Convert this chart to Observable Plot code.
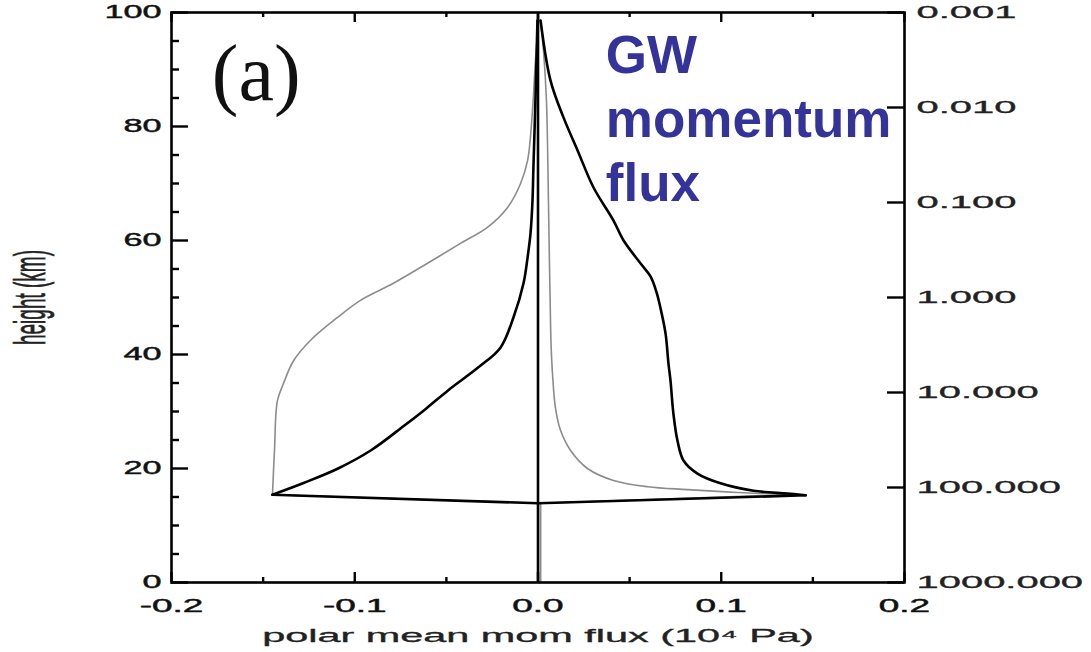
<!DOCTYPE html>
<html>
<head>
<meta charset="utf-8">
<script src="https://cdn.jsdelivr.net/npm/d3@7"></script>
<script src="https://cdn.jsdelivr.net/npm/@observablehq/plot@0.6"></script>
<style>
  html, body { margin: 0; padding: 0; background: #fff; }
  #chart svg { display: block; }
</style>
</head>
<body>
<div id="chart"></div>
<script>
// ---------- data (x = flux, h = height km) ----------
// profiles above the source level
const blackWest = [
  [-0.1449, 15.4], [-0.1276, 17.5], [-0.1091, 20.0], [-0.0911, 23.2],
  [-0.0731, 27.5], [-0.0611, 30.5], [-0.0491, 33.7], [-0.0327, 37.7], [-0.0205, 41.2],
  [-0.0134, 46.5], [-0.0079, 52.5], [-0.0057, 57.0], [-0.0041, 61.2], [-0.003, 67.0],
  [-0.0025, 72.8], [-0.0014, 84.6], [-0.0003, 98.6]
];
const blackEast = [
  [0.146, 15.3], [0.1362, 15.6], [0.1176, 16.1], [0.0996, 17.4],
  [0.087, 19.1], [0.0794, 21.4], [0.0761, 24.9], [0.0739, 29.6], [0.0723, 35.4],
  [0.0712, 38.4], [0.0696, 43.7], [0.0668, 48.2], [0.0647, 50.9], [0.0614, 53.7],
  [0.0559, 56.0], [0.0467, 60.0], [0.0412, 63.5], [0.0303, 69.3], [0.0216, 75.8],
  [0.0139, 81.6], [0.0068, 88.1], [0.0014, 98.6]
];
const grayWest = [
  [-0.1449, 15.4], [-0.1438, 23.2], [-0.1422, 31.9], [-0.1389, 34.9],
  [-0.1334, 38.9], [-0.1241, 42.5], [-0.1094, 46.5], [-0.0969, 49.5], [-0.0789, 52.5],
  [-0.0603, 56.0], [-0.0423, 59.5], [-0.0276, 62.3], [-0.0166, 65.8], [-0.0095, 70.0],
  [-0.0057, 74.0], [-0.003, 82.8], [-0.0014, 91.6], [0.0003, 98.6]
];
const grayEast = [
  [0.1378, 15.4], [0.1089, 15.8], [0.0816, 16.3],
  [0.0598, 16.8], [0.0412, 17.9], [0.027, 20.0], [0.0177, 23.2], [0.0123, 26.7],
  [0.0095, 30.7], [0.0079, 36.7], [0.0071, 42.0], [0.0066, 50.0], [0.0062, 57.0],
  [0.0057, 67.0], [0.0046, 84.6], [0.003, 93.3], [0.0014, 98.6]
];
// below / at the source level
const blackSource = [[-0.1449, 15.4], [0, 13.9], [0.146, 15.3]];
const graySource = [[-0.1449, 15.4], [0.0014, 13.9], [0.1378, 15.4]];
const grayStem = [[0.0014, 0], [0.0014, 13.9]];

// ---------- axes ----------
const xTicksMajor = [-0.2, -0.1, 0, 0.1, 0.2];
const xTicksMinor = [-0.15, -0.05, 0.05, 0.15];
const yTicksMajor = [0, 20, 40, 60, 80, 100];
const yTicksMinor = [5, 10, 15, 25, 30, 35, 45, 50, 55, 65, 70, 75, 85, 90, 95];
const pressureTicks = [0.001, 0.01, 0.1, 1, 10, 100, 1000];
const pressureLabels = ["0.001", "0.010", "0.100", "1.000", "10.000", "100.000", "1000.000"];
const xTitle = "polar mean mom flux (10\u2074 Pa)";
const yTitle = "height (km)";

// ---------- annotations ----------
const panelLabel = [{x: -0.178, h: 84.6, text: "(a)"}];
const gwText = ["GW", "momentum", "flux"];
const gwH = [89.3, 78.1, 67.0];
const gwX = 0.037;
const gwRows = gwText.map((t, i) => ({x: gwX, h: gwH[i], text: t}));

// ---------- layout ----------
const W = 1091, H = 652;
const M = {left: 171, right: 187, top: 12, bottom: 70};
const fw = W - M.left - M.right;
const fh = H - M.top - M.bottom;

// pressure (hPa) placed on the height axis: 0.001 at top, 1000 at bottom
const pToH = p => (3 - Math.log10(p)) * 100 / 6;
const hToLabel = h => {
  const i = pressureTicks.findIndex(p => Math.abs(pToH(p) - h) < 1e-6);
  return i >= 0 ? pressureLabels[i] : "";
};

const lineOpts = (stroke, sw, curve) => ({x: d => d[0], y: d => d[1], stroke, strokeWidth: sw, strokeLinejoin: "round", curve});
const tickStyle = {stroke: "#000", strokeWidth: 2.4};
const GRAY = "#8c8c8c";

const plot = Plot.plot({
  width: W, height: H,
  marginLeft: M.left, marginRight: M.right, marginTop: M.top, marginBottom: M.bottom,
  style: {fontFamily: "'Liberation Sans', Arial, sans-serif", fontSize: "17px", background: "#fff", color: "#111", overflow: "visible"},
  x: {domain: [-0.2, 0.2]},
  y: {domain: [0, 100]},
  marks: [
    Plot.line(grayStem, lineOpts(GRAY, 1.8, "linear")),
    Plot.line(graySource, lineOpts(GRAY, 1.6, "linear")),
    Plot.line(grayWest, lineOpts(GRAY, 1.6, "catmull-rom")),
    Plot.line(grayEast, lineOpts(GRAY, 1.6, "catmull-rom")),
    Plot.line(blackSource, lineOpts("#000", 2.6, "linear")),
    Plot.line(blackWest, lineOpts("#000", 2.6, "catmull-rom")),
    Plot.line(blackEast, lineOpts("#000", 2.6, "catmull-rom")),
    Plot.ruleX([0], {stroke: "#000", strokeWidth: 2.6}),
    // inward ticks
    Plot.ruleX(xTicksMajor, {x: d => d, insetTop: fh - 10, ...tickStyle}),
    Plot.ruleX(xTicksMinor, {x: d => d, insetTop: fh - 5, ...tickStyle}),
    Plot.ruleX(xTicksMajor, {x: d => d, insetBottom: fh - 10, ...tickStyle}),
    Plot.ruleX(xTicksMinor, {x: d => d, insetBottom: fh - 5, ...tickStyle}),
    Plot.ruleY(yTicksMajor, {y: d => d, insetRight: fw - 17, ...tickStyle}),
    Plot.ruleY(yTicksMinor, {y: d => d, insetRight: fw - 8, ...tickStyle}),
    Plot.ruleY(pressureTicks, {y: d => pToH(d), insetLeft: fw - 17, ...tickStyle}),
    Plot.frame({stroke: "#000", strokeWidth: 2.6}),
    // axes (labels only)
    Plot.axisX({ticks: xTicksMajor, tickSize: 0, tickPadding: 17, tickFormat: d => d.toFixed(1),
      label: xTitle, labelAnchor: "center", labelArrow: "none", labelOffset: 59}),
    Plot.axisY({ticks: yTicksMajor, tickSize: 0, tickPadding: 10, tickFormat: d => String(d),
      label: yTitle, labelAnchor: "center", labelArrow: "none", labelOffset: 158}),
    Plot.axisY({anchor: "right", ticks: pressureTicks.map(pToH), tickSize: 0, tickPadding: 12,
      tickFormat: hToLabel, label: null}),
    // annotations
    Plot.text(panelLabel, {x: "x", y: "h", text: "text", textAnchor: "start", lineAnchor: "bottom",
      fontFamily: "'Liberation Serif', 'Times New Roman', serif", fontSize: 80, fill: "#111"}),
    Plot.text(gwRows, {x: "x", y: "h", text: "text", textAnchor: "start", lineAnchor: "bottom",
      fontFamily: "'Liberation Sans', Arial, sans-serif", fontWeight: "bold", fontSize: 53, fill: "#333399"})
  ]
});

document.getElementById("chart").appendChild(plot);

// ---------- text styling (wide, raster-like glyphs) ----------
const svg = d3.select(plot);
function stretch(sel, sx, sy, size, fill, sw) {
  sel.each(function () {
    const t = this.getAttribute("transform") || "";
    this.setAttribute("transform", `${t} scale(${sx},${sy})`);
    if (size) this.setAttribute("font-size", size);
    if (fill) { this.setAttribute("fill", fill); }
    if (sw) { this.setAttribute("stroke", fill); this.setAttribute("stroke-width", sw); }
  });
}
stretch(svg.selectAll('g[aria-label="x-axis tick label"] text'), 2.05, 1, 18, "#111", 0.45);
const yLabelGroups = svg.selectAll('g[aria-label="y-axis tick label"]').nodes();
if (yLabelGroups[0]) stretch(d3.select(yLabelGroups[0]).selectAll("text"), 1.9, 1, 18, "#111", 0.45);
if (yLabelGroups[1]) stretch(d3.select(yLabelGroups[1]).selectAll("text"), 2.35, 1, 17, "#222", 0.3);
stretch(svg.selectAll('g[aria-label="x-axis label"] text'), 2.3, 1, 18, "#222", 0.3);
stretch(svg.selectAll('g[aria-label="y-axis label"] text'), 1, 2.3, 19, "#222", 0.3);
</script>
</body>
</html>
